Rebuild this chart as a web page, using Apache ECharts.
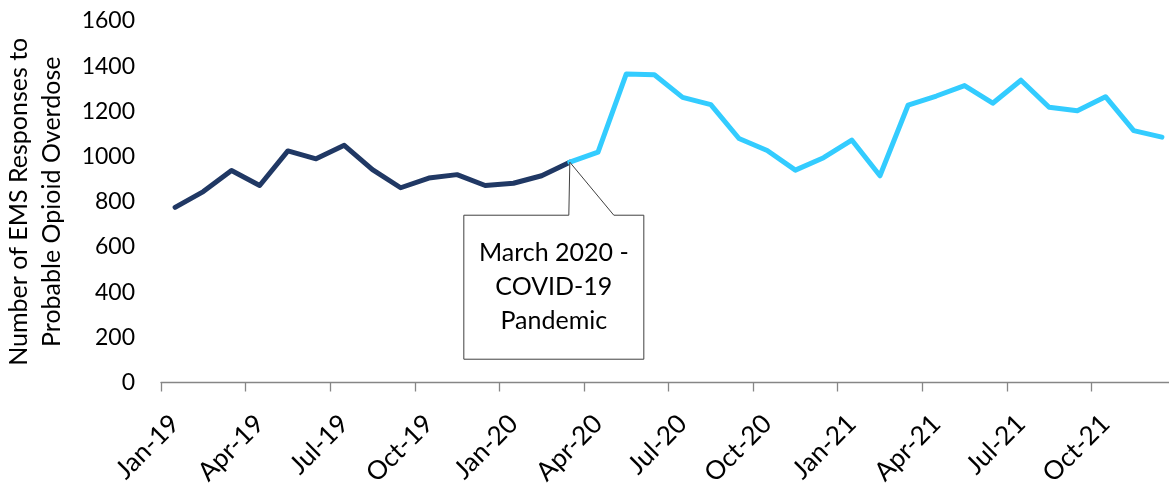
<!DOCTYPE html>
<html>
<head>
<meta charset="utf-8">
<script src="https://cdn.jsdelivr.net/npm/echarts@6/dist/echarts.min.js"></script>
<style>
  html, body { margin: 0; padding: 0; background: #fff; }
  #chart { width: 1169px; height: 487px; }
</style>
</head>
<body>
<div id="chart"></div>
<script>
// Monthly categories, Jan 2019 through Dec 2021
const months = [
  'Jan-19','Feb-19','Mar-19','Apr-19','May-19','Jun-19','Jul-19','Aug-19','Sep-19','Oct-19','Nov-19','Dec-19',
  'Jan-20','Feb-20','Mar-20','Apr-20','May-20','Jun-20','Jul-20','Aug-20','Sep-20','Oct-20','Nov-20','Dec-20',
  'Jan-21','Feb-21','Mar-21','Apr-21','May-21','Jun-21','Jul-21','Aug-21','Sep-21','Oct-21','Nov-21','Dec-21'
];

// EMS responses before the pandemic (Jan-19 .. Mar-20)
const preCovid = [775, 845, 938, 872, 1025, 990, 1050, 942, 862, 905, 920, 872, 882, 915, 975];

// EMS responses from the pandemic onward (Mar-20 .. Dec-21)
const postCovid = [975, 1020, 1365, 1362, 1262, 1230, 1080, 1027, 940, 995, 1073, 915,
                   1228, 1268, 1314, 1236, 1338, 1218, 1203, 1265, 1115, 1086];

const pandemicStart = 'Mar-20';
const calloutText = 'March 2020 -\nCOVID-19\nPandemic';

const FONT = 'Lato, "Open Sans", sans-serif';

const startIdx = months.indexOf(pandemicStart);
const preData = months.map((m, i) => (i < preCovid.length ? preCovid[i] : null));
const postData = months.map((m, i) => (i >= startIdx ? postCovid[i - startIdx] : null));

const chart = echarts.init(document.getElementById('chart'), null, { renderer: 'canvas' });

chart.setOption({
  animation: false,
  backgroundColor: '#ffffff',
  grid: { left: 161, top: 21, width: 1015, height: 361.5, containLabel: false, outerBoundsMode: 'none' },
  xAxis: {
    type: 'category',
    data: months,
    boundaryGap: true,
    axisLine: { lineStyle: { color: '#868686', width: 1.3 } },
    axisTick: { show: true, interval: 2, length: 9, lineStyle: { color: '#868686', width: 1.3 } },
    axisLabel: {
      interval: 2, rotate: 45, margin: 37,
      color: '#000', fontFamily: FONT, fontSize: 26
    },
    splitLine: { show: false }
  },
  yAxis: {
    type: 'value',
    min: 0, max: 1600, interval: 200,
    name: 'Number of EMS Responses to\nProbable Opioid Overdose',
    nameLocation: 'middle',
    nameGap: 93,
    nameTextStyle: { color: '#000', fontFamily: FONT, fontSize: 25, lineHeight: 33 },
    axisLine: { show: false },
    axisTick: { show: false },
    axisLabel: {
      color: '#000', fontFamily: FONT, fontSize: 23, margin: 26,
      formatter: (v) => String(v)
    },
    splitLine: { show: false }
  },
  series: [
    {
      name: 'Before pandemic',
      type: 'line',
      data: preData,
      showSymbol: false,
      connectNulls: false,
      lineStyle: { color: '#203864', width: 5, cap: 'round', join: 'round' },
      z: 2
    },
    {
      name: 'Pandemic',
      type: 'line',
      data: postData,
      showSymbol: false,
      connectNulls: false,
      lineStyle: { color: '#33CCFF', width: 5, cap: 'round', join: 'round' },
      z: 3
    }
  ]
});

// Callout pointing at the start of the pandemic series
const tip = chart.convertToPixel({ xAxisIndex: 0, yAxisIndex: 0 }, [pandemicStart, postCovid[0]]);
const box = { left: tip[0] - 106, right: tip[0] + 74, top: tip[1] + 53, bottom: tip[1] + 197 };
chart.setOption({
  graphic: [
    {
      type: 'polygon',
      z: 10,
      shape: {
        points: [
          [box.left, box.top], [tip[0] - 1, box.top], [tip[0], tip[1]],
          [tip[0] + 44, box.top], [box.right, box.top],
          [box.right, box.bottom], [box.left, box.bottom]
        ]
      },
      style: { fill: '#ffffff', stroke: '#404040', lineWidth: 1 }
    },
    {
      type: 'text',
      z: 11,
      x: (box.left + box.right) / 2,
      y: (box.top + box.bottom) / 2,
      style: {
        text: calloutText,
        font: '25px ' + FONT,
        fill: '#000',
        align: 'center',
        verticalAlign: 'middle',
        lineHeight: 34
      }
    }
  ]
});
</script>
</body>
</html>
